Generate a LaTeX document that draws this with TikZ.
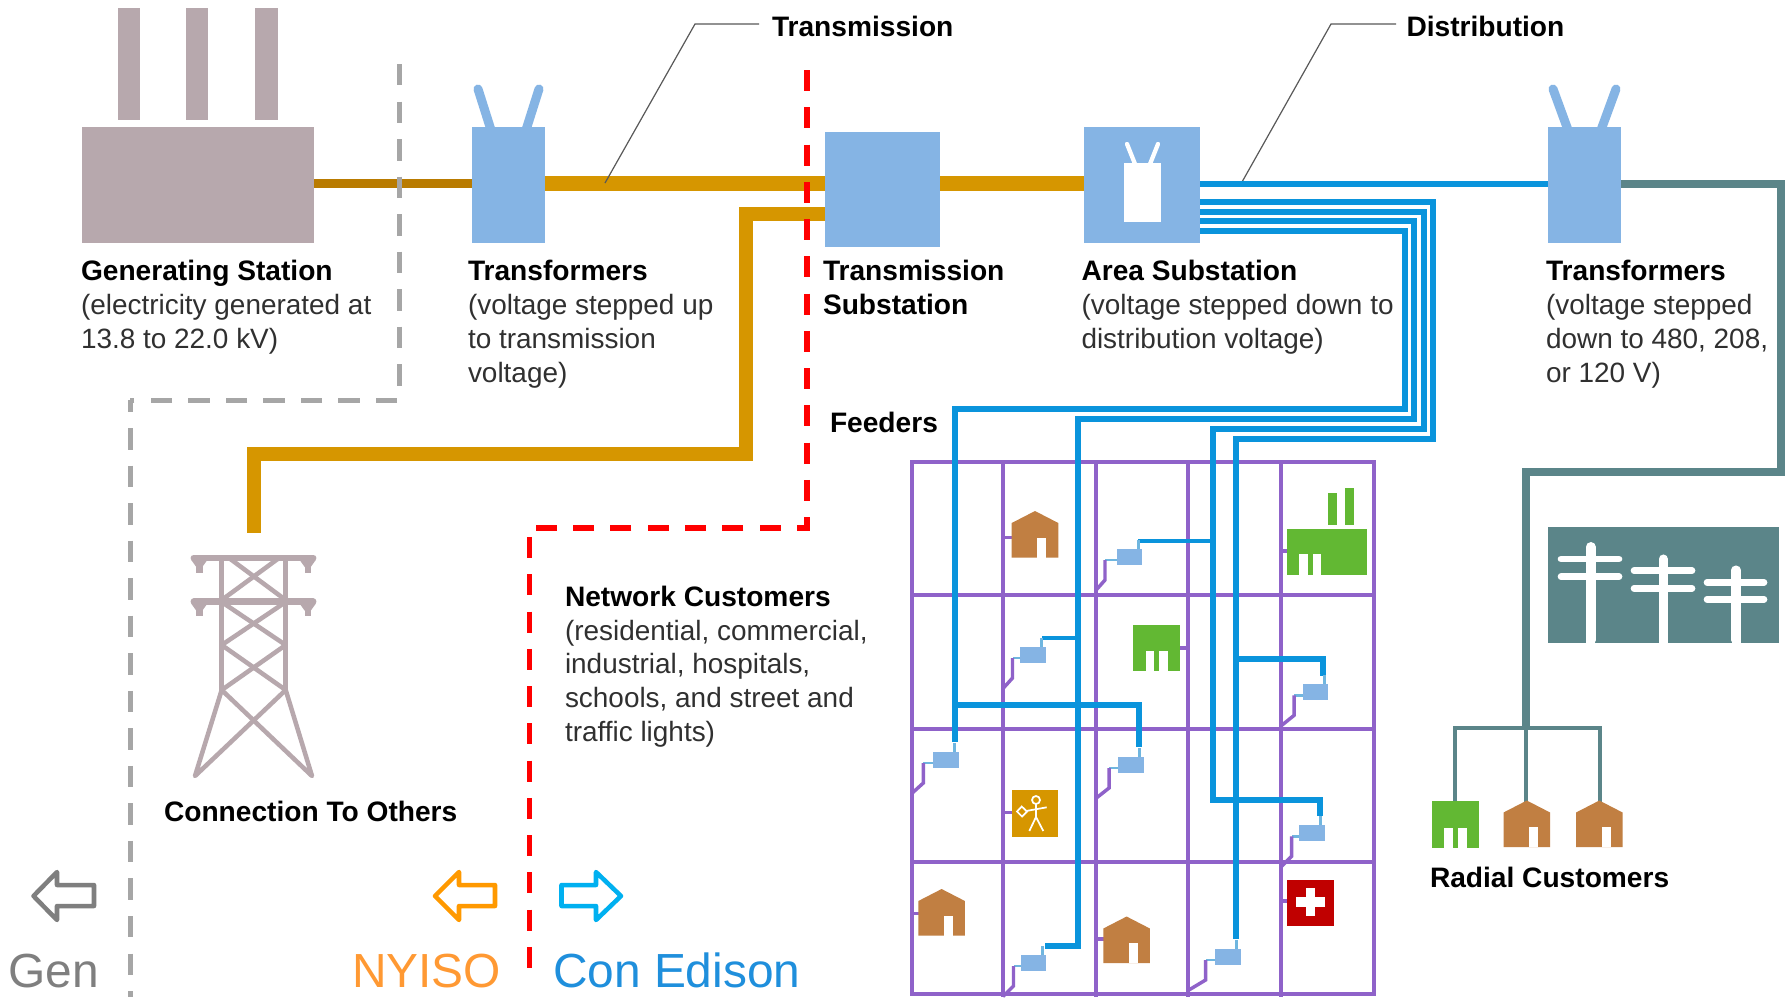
\documentclass[tikz,border=0pt]{standalone}
\usepackage{fontspec}
\setmainfont{Liberation Sans}
\definecolor{blueb}{HTML}{85B4E4}
\definecolor{factoryc}{HTML}{B7A8AD}
\definecolor{orangec}{HTML}{D69600}
\definecolor{darkorc}{HTML}{B97B00}
\definecolor{feederc}{HTML}{0A94DC}
\definecolor{stubc}{HTML}{6FB6DF}
\definecolor{tealc}{HTML}{5B8589}
\definecolor{purplec}{HTML}{8F62C9}
\definecolor{greenc}{HTML}{62B833}
\definecolor{brownc}{HTML}{C17F42}
\definecolor{redboxc}{HTML}{C00000}
\definecolor{textc}{HTML}{303030}
\definecolor{genc}{HTML}{7F7F7F}
\definecolor{nyisoc}{HTML}{FF9933}
\definecolor{edisonc}{HTML}{1F8FDC}
\definecolor{nyisoarrow}{HTML}{FF9900}
\definecolor{edisonarrow}{HTML}{00B0F0}
\newcommand{\fl}{\rule{0pt}{20pt}}
\newcommand{\bd}[1]{{\fontsize{21.1}{25.4}\selectfont\bfseries\textcolor{black}{#1}}}
\tikzset{
 x=0.75pt,y=-0.75pt,
 block/.style n args={3}{fill=#1,draw=none,inner sep=0pt,outer sep=0pt,anchor=north west,minimum width=#2*0.75pt,minimum height=#3*0.75pt},
 bluebox/.style 2 args={block={blueb}{#1}{#2}},
 bushing/.style={draw=blueb,line width=6.75pt,line cap=round},
 hv/.style={draw=orangec,line width=10.8pt},
 lv/.style={draw=darkorc,line width=6.75pt},
 feeder/.style={draw=feederc,line width=4.5pt},
 branch/.style={draw=feederc,line width=3.2pt},
 gridline/.style={draw=purplec,line width=3pt},
 purplestub/.style={draw=purplec,line width=2.6pt},
 lightstub/.style={draw=stubc,line width=2.2pt},
 leader/.style={draw=black!65,line width=0.9pt},
 towerline/.style={draw=factoryc,line width=3.4pt},
 gendash/.style={draw=black!35,line width=3.75pt,dash pattern=on 16.1pt off 12.05pt},
 reddash/.style={draw=red,line width=4.1pt,dash pattern=on 15.75pt off 12.2pt},
 lbl/.style={anchor=north west,align=left,inner sep=0pt,outer sep=0pt,text=textc,font=\fontsize{20.95}{25.4}\selectfont},
 bigl/.style={anchor=base west,inner sep=0pt,outer sep=0pt,font=\fontsize{35.9}{40}\selectfont},
 bigarrow/.style={line width=3.4pt,line join=round,fill=none},
 smallbox/.style={block={blueb}{25.6}{16}},
}
% building glyphs, #1 #2 = top left corner
\newcommand{\house}[2]{\begin{scope}[shift={(#1,#2)}]
 \fill[brownc] (0,12) -- (23.3,0) -- (46.6,12) -- (46.6,46.5) -- (0,46.5) -- cycle;
 \fill[white] (25.5,26.5) rectangle (34.7,46.6);
\end{scope}}
\newcommand{\shop}[2]{\begin{scope}[shift={(#1,#2)}]
 \fill[greenc] (0,0) rectangle (46.6,46.5);
 \fill[white] (12.4,26.5) rectangle (21,46.6);
 \fill[white] (26,26.5) rectangle (35,46.6);
\end{scope}}
% small transformer: name, x, y, grid x, step x
\newcommand{\smalltr}[5]{
 \node[smallbox] (#1) at (#2,#3) {};
 \draw[lightstub] ([xshift=6.4pt]#1.north) -- ++(0,-9);
 \draw[lightstub] ([yshift=-2.25pt]#1.west) -- (#5,#3+11);
 \draw[purplestub] (#5,#3+11) -- (#5,#3+31) -- (#4,#3+41.5);
}
\begin{document}
\begin{tikzpicture}
\useasboundingbox (0,0) rectangle (1787,997);
\fill[white] (0,0) rectangle (1787,997);

% ---- street grid
\draw[gridline] (911.7,462) rectangle (1374,994);
\foreach \gx in {1003,1095.7,1188,1281} \draw[gridline] (\gx,462) -- (\gx,997);
\foreach \gy in {595,728.5,861.5} \draw[gridline] (911.7,\gy) -- (1376,\gy);

% ---- main blocks
\fill[factoryc] (117.5,8) rectangle (139.5,120);
\fill[factoryc] (186,8) rectangle (208,120);
\fill[factoryc] (255,8) rectangle (277.5,120);
\node[block={factoryc}{232}{116}] (gen) at (82,127) {};

\draw[bushing] (478,89) -- (491,130);
\draw[bushing] (539,89) -- (526,130);
\node[bluebox={73}{116}] (t1) at (472,127) {};
\node[bluebox={115}{115}] (tsub) at (825,132) {};
\node[bluebox={116}{116}] (area) at (1084,127) {};
\fill[white] (1124,163) rectangle (1161,222);
\draw[white,line width=3.2pt,line cap=round] (1127,144) -- (1135,164);
\draw[white,line width=3.2pt,line cap=round] (1158,144) -- (1150,164);
\draw[bushing] (1553,89) -- (1568,130);
\draw[bushing] (1616,89) -- (1601,130);
\node[bluebox={73}{116}] (t3) at (1548,127) {};

% ---- generation and transmission lines
\draw[lv] (gen.east |- 0,183.5) -- (t1.west |- 0,183.5);
\draw[hv] (t1.east |- 0,183.5) -- (tsub.west |- 0,183.5);
\draw[hv] (tsub.east |- 0,183.5) -- (area.west |- 0,183.5);
\coordinate (tietop) at (746,454);
\coordinate (tieend) at (254,533);
\draw[hv] (tsub.west |- 0,214) -| (tietop) -| (tieend);

% ---- leaders
\coordinate (tmid) at (695,24);
\coordinate (dmid) at (1331,24);
\draw[leader] (605,183) -- (tmid) -- (759,24);
\draw[leader] (1242,182) -- (dmid) -- (1396,24);

% ---- distribution from area substation
\draw[feeder] (area.east |- 0,184) -- (t3.west |- 0,184);
\draw[feeder] (area.east |- 0,231) -| (1404.5,409) -| (955,742);
\draw[feeder] (area.east |- 0,221) -| (1414,419) -| (1078,946) -- (1045,946);
\draw[feeder] (area.east |- 0,211.5) -| (1423.7,429) -| (1213,800) -| (1320,816);
\draw[feeder] (area.east |- 0,202) -| (1432.5,439) -| (1236,939);
\draw[feeder] (955,705) -| (1139,747);
\draw[feeder] (1236,658.5) -| (1323,676);
\draw[branch] (1078,638) -- (1042,638);
\draw[branch] (1213,541) -- (1138,541);

% ---- radial line
\coordinate (r1) at (1781,472);
\coordinate (r2) at (1526,728);
\draw[draw=tealc,line width=5.6pt] (t3.east |- 0,184) -| (r1) -| (r2);
\draw[draw=tealc,line width=3pt] (1455,802) |- (1600,728) -- (1600,802);
\draw[draw=tealc,line width=2.4pt] (r2) -- (1526,802);

% ---- small transformers
\smalltr{sa}{1116.7}{549}{1095.7}{1105}
\smalltr{sb}{1020}{647}{1003}{1012.5}
\smalltr{sc}{1302.7}{684.4}{1281}{1294}
\smalltr{sd}{933.3}{752}{911.7}{923.3}
\smalltr{se}{1118.3}{757}{1095.7}{1109}
\smalltr{sf}{1299.3}{825.4}{1281}{1291.5}
\smalltr{sg}{1020.7}{955}{1003}{1013.5}
\smalltr{sh}{1215}{949}{1188}{1205.5}

% ---- customers in the grid
\draw[purplestub] (1003,537.7) -- (1012,537.7);
\draw[purplestub] (1281,551) -- (1288,551);
\draw[purplestub] (1180,647.8) -- (1188,647.8);
\draw[purplestub] (1003,812.3) -- (1012,812.3);
\draw[purplestub] (911.7,913.5) -- (919,913.5);
\draw[purplestub] (1095.7,939) -- (1104,939);
\draw[purplestub] (1281,901) -- (1288,901);
\house{1011.7}{511}
\house{918.3}{889}
\house{1103.3}{916.5}
\shop{1133.3}{624.7}
% factory
\fill[greenc] (1328.3,493.3) rectangle (1336.7,525);
\fill[greenc] (1345,488) rectangle (1354.3,525);
\fill[greenc] (1287.3,528.8) rectangle (1366.7,575);
\fill[white] (1299.3,554.4) rectangle (1307.7,575.1);
\fill[white] (1312.7,554.4) rectangle (1321,575.1);
% school
\fill[orangec] (1011.7,790) rectangle (1058.3,837);
\draw[white,line width=1.3pt] (1036,800) circle[radius=4];
\draw[white,line width=1.3pt] (1036,804) -- (1036,817) -- (1029.3,831);
\draw[white,line width=1.3pt] (1036,817) -- (1043.3,831);
\draw[white,line width=1.3pt] (1046.7,807.3) -- (1026,811);
\draw[white,line width=1.3pt] (1021.7,806.5) -- (1027,811.5) -- (1022,816.5) -- (1017,811.5) -- cycle;
% hospital
\fill[redboxc] (1287.3,879.8) rectangle (1334,925.6);
\fill[white] (1305.7,888) rectangle (1315,916);
\fill[white] (1296,896.5) rectangle (1325,907);

% ---- radial customers
\shop{1432}{801}
\house{1503.5}{800.5}
\house{1576}{800.5}

% ---- pole panel
\fill[tealc] (1547.7,526.7) rectangle (1779.3,642.7);
\foreach \px/\ptop/\pa/\pb/\pw/\pl/\pr in {1590.7/547/559/576.7/7.5/1561/1619,1663.3/559/570.7/588.3/6.8/1634/1692,1736/570/582.3/599.3/6.8/1707/1764}{
 \draw[white,line width=\pw pt,line cap=round] (\px,\ptop) -- (\px,640);
 \fill[white] (\px-4.5,630) rectangle (\px+4.5,642.7);
 \draw[white,line width=5pt,line cap=round] (\pl,\pa) -- (\pr,\pa);
 \draw[white,line width=5pt,line cap=round] (\pl,\pb) -- (\pr,\pb);
}

% ---- tower
\draw[towerline] (221.7,558) -- (221.7,691);
\draw[towerline] (285.7,558) -- (285.7,691);
\draw[towerline] (229,558) -- (285.7,600);
\draw[towerline] (279,558) -- (221.7,600);
\draw[towerline] (221.7,602) -- (285.7,645);
\draw[towerline] (285.7,602) -- (221.7,645);
\draw[towerline] (221.7,645) -- (285.7,690);
\draw[towerline] (285.7,645) -- (221.7,690);
\draw[towerline,line join=round] (221.7,690) -- (312,776) -- (285.7,690);
\draw[towerline,line join=round] (285.7,690) -- (195,776) -- (221.7,690);
\draw[draw=factoryc,line width=5.2pt,line cap=round] (194,558) -- (313,558);
\draw[draw=factoryc,line width=5.2pt,line cap=round] (194,601.7) -- (313,601.7);
\foreach \hx in {199.3,307.7}{
 \draw[draw=factoryc,line width=4.8pt] (\hx,558) -- (\hx,572.7);
 \draw[draw=factoryc,line width=4.8pt] (\hx,601.7) -- (\hx,616);
 \fill[factoryc] (\hx-8,560) -- (\hx+8,560) -- (\hx+3,567) -- (\hx-3,567) -- cycle;
 \fill[factoryc] (\hx-8,603.7) -- (\hx+8,603.7) -- (\hx+3,610.7) -- (\hx-3,610.7) -- cycle;
}

% ---- boundaries
\coordinate (g1) at (399,64);
\coordinate (g2) at (399,400);
\coordinate (g3) at (130,400);
\coordinate (g4) at (130,997);
\draw[gendash] (g1) -- (g2) -- (g3);
\draw[gendash,dash phase=7.1pt] (g3) -- (g4);
\coordinate (b1) at (807,70);
\coordinate (b2) at (807,528);
\coordinate (b3) at (529.5,528);
\coordinate (b4) at (529.5,971);
\draw[reddash] (b1) -- (b2) -- (b3);
\draw[reddash,dash phase=21.2pt] (b3) -- (b4);

% ---- arrows
\draw[bigarrow,draw=genc] (94,885) -- (57,885) -- (57,872) -- (33.5,896) -- (57,920) -- (57,906) -- (94,906) -- cycle;
\draw[bigarrow,draw=nyisoarrow] (495,885) -- (459,885) -- (459,872) -- (435,896) -- (459,920) -- (459,906) -- (495,906) -- cycle;
\draw[bigarrow,draw=edisonarrow] (561.5,885) -- (596,885) -- (596,872) -- (621,896) -- (596,920) -- (596,906) -- (561.5,906) -- cycle;

% ---- labels
\node[lbl] (lgen) at (81,254) {\fl\bd{Generating Station}\\(electricity generated at\\13.8 to 22.0 kV)};
\node[lbl] (lt1) at (468,254) {\fl\bd{Transformers}\\(voltage stepped up\\to transmission\\voltage)};
\node[lbl] (ltsub) at (823,254) {\fl\bd{Transmission}\\\bd{Substation}};
\node[lbl] (larea) at (1081.5,254) {\fl\bd{Area Substation}\\(voltage stepped down to\\distribution voltage)};
\node[lbl] (lt3) at (1546,254) {\fl\bd{Transformers}\\(voltage stepped\\down to 480, 208,\\or 120 V)};
\node[lbl] (lnet) at (565,579.5) {\fl\bd{Network Customers}\\(residential, commercial,\\industrial, hospitals,\\schools, and street and\\traffic lights)};
\node[lbl] (lfeed) at (830,406) {\fl\bd{Feeders}};
\node[lbl] (lconn) at (164,795) {\fl\bd{Connection To Others}};
\node[lbl] (lrad) at (1430,860.5) {\fl\bd{Radial Customers}};
\node[lbl] (ltrans) at (772,10) {\fl\bd{Transmission}};
\node[lbl] (ldist) at (1406.5,10) {\fl\bd{Distribution}};
\node[bigl,text=genc] (lg) at (8.5,987) {Gen};
\node[bigl,text=nyisoc] (ln) at (352,987) {NYISO};
\node[bigl,text=edisonc] (lc) at (553,987) {Con Edison};
\end{tikzpicture}
\end{document}
